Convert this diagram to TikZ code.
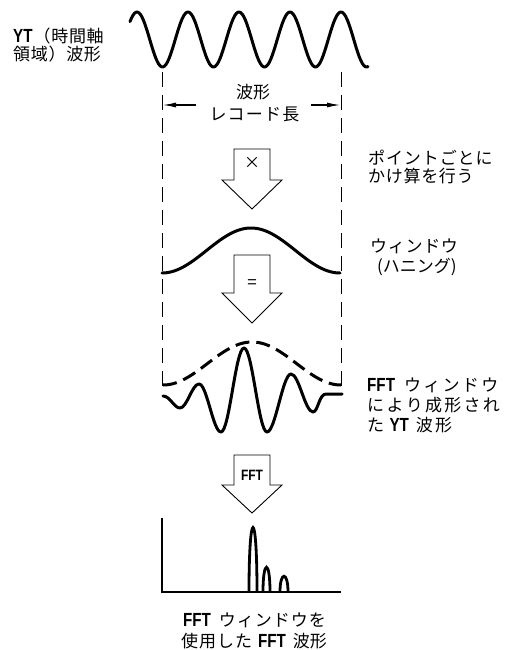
\documentclass[tikz,border=0pt]{standalone}
\usepackage{fontspec}
\setmainfont{Noto Sans CJK JP}
\newfontfamily\lat[FakeStretch=0.8]{Liberation Sans}
\usetikzlibrary{arrows.meta}
\newcommand\jpf{\fontsize{17}{20}\selectfont}
\newcommand\bl[1]{{\lat\bfseries\fontsize{19}{20}\selectfont #1}}
\makeatletter
\def\ltsp#1#2{\def\ltsp@k{#1}\ltsp@a#2\relax}
\def\ltsp@a#1{\ifx\relax#1\else#1\kern\ltsp@k\expandafter\ltsp@a\fi}
\makeatother
\tikzset{
 wave/.style={line width=3pt, line cap=round, line join=round},
 guide/.style={line width=0.9pt, dash pattern=on 15pt off 8pt},
 blk/.style={draw, line width=0.9pt, fill=white, line join=miter},
 txt/.style={inner sep=0pt, anchor=base west, font=\jpf},
 ctxt/.style={inner sep=0pt, anchor=base, font=\jpf},
 dim/.style={line width=1.1pt, -{Latex[length=13pt,width=5pt]}},
 axis/.style={line width=1.4pt},
 spike/.style={line width=2.8pt}
}
\begin{document}
\begin{tikzpicture}[x=1pt,y=-1pt]
\useasboundingbox (0,0) rectangle (511,650);
% top YT wave
\draw[wave] plot[domain=130:368,samples=160] (\x,{39.5-27.5*cos(7.0588*(\x-137))});
% guide lines
\coordinate (gl1) at (162,72); \coordinate (gl2) at (162,386);
\coordinate (gr1) at (341,72); \coordinate (gr2) at (341,386);
\draw[guide] (gl1) -- (gl2);
\draw[guide] (gr1) -- (gr2);
% record length
\node[ctxt] (rl1) at (253,99) {波形};
\node[ctxt] (rl2) at (255,121) {\ltsp{1.2pt}{レコード長}};
\coordinate (al0) at (196,105); \coordinate (al1) at (163,105);
\coordinate (ar0) at (311,105); \coordinate (ar1) at (340,105);
\draw[dim] (al0) -- (al1);
\draw[dim] (ar0) -- (ar1);
% arrow x
\draw[blk] (234,149) -- (270,149) -- (270,180) -- (282,180) -- (252,209) -- (222,180) -- (234,180) -- cycle;
\node[font=\fontsize{16}{16}\selectfont, inner sep=0pt] (mul) at (252,163) {×};
% window
\draw[wave] plot[domain=162:340,samples=120] (\x,{273-22.5*(1-cos(2.02247*(\x-162)))});
% arrow =
\draw[blk] (234,255) -- (270,255) -- (270,293) -- (282,293) -- (252,323) -- (222,293) -- (234,293) -- cycle;
\node[font=\fontsize{17}{17}\selectfont, inner sep=0pt] (eq) at (252,284) {=};
% envelope
\draw[wave, line cap=butt, dash pattern=on 14pt off 7pt] plot[domain=163:341,samples=120] (\x,{385-21.5*(1-cos(2.02247*(\x-163)))});
% windowed wave
\draw[wave] (163,396) .. controls (170,396) and (174,408) .. (180,408)
  .. controls (187,408) and (192,384) .. (199,384)
  .. controls (207,384) and (213,432) .. (221,432)
  .. controls (229.4,432) and (235.6,348) .. (244,348)
  .. controls (252.4,348) and (258.6,432) .. (267,432)
  .. controls (275.4,432) and (282.6,374) .. (291,374)
  .. controls (299,374) and (305,412) .. (313,412)
  .. controls (318,412) and (319,394) .. (326,394) -- (342,394);
% FFT arrow
\draw[blk] (234,455) -- (270,455) -- (270,485) -- (282,485) -- (252,513) -- (222,485) -- (234,485) -- cycle;
\node[font=\lat\bfseries\fontsize{15}{15}\selectfont, inner sep=0pt] (fftl) at (252,475) {FFT};
% spectrum
\coordinate (ax0) at (162,518); \coordinate (ax1) at (162,592); \coordinate (ax2) at (341,592);
\draw[axis] (ax0) -- (ax1) -- (ax2);
\draw[spike] (249,592) .. controls (249,506) and (257,506) .. (257,592);
\draw[spike] (263,592) .. controls (263,559) and (270,559) .. (270,592);
\draw[spike] (280,592) .. controls (280,571) and (288,571) .. (288,592);
% texts
\node[txt] (yt1) at (13,43) {\bl{YT}\hspace{1pt}\ltsp{0.7pt}{（時間軸}};
\node[txt] (yt2) at (13,61) {\ltsp{0.7pt}{領域）波形}};
\node[txt] (pt1) at (368,164) {\ltsp{0.9pt}{ポイントごとに}};
\node[txt] (pt2) at (368,182) {\ltsp{0.7pt}{かけ算を行う}};
\node[txt] (hn1) at (370,252) {\ltsp{0.7pt}{ウィンドウ}};
\node[txt] (hn2) at (377,272) {(ハニング)};
\node[txt] (fw1) at (367,391) {\bl{FFT}\hspace{9pt}\ltsp{2.3pt}{ウィンドウ}};
\node[txt] (fw2) at (367,411) {\ltsp{2.3pt}{により成形され}};
\node[txt] (fw3) at (367,431) {\ltsp{2.3pt}{た}\hspace{3pt}\bl{YT}\hspace{7pt}\ltsp{2.3pt}{波形}};
\node[ctxt] (ff1) at (255,626) {\bl{FFT}\hspace{8pt}\ltsp{1pt}{ウィンドウを}};
\node[ctxt] (ff2) at (254,647) {\ltsp{1pt}{使用した}\hspace{5pt}\bl{FFT}\hspace{7pt}波形};
\end{tikzpicture}
\end{document}
